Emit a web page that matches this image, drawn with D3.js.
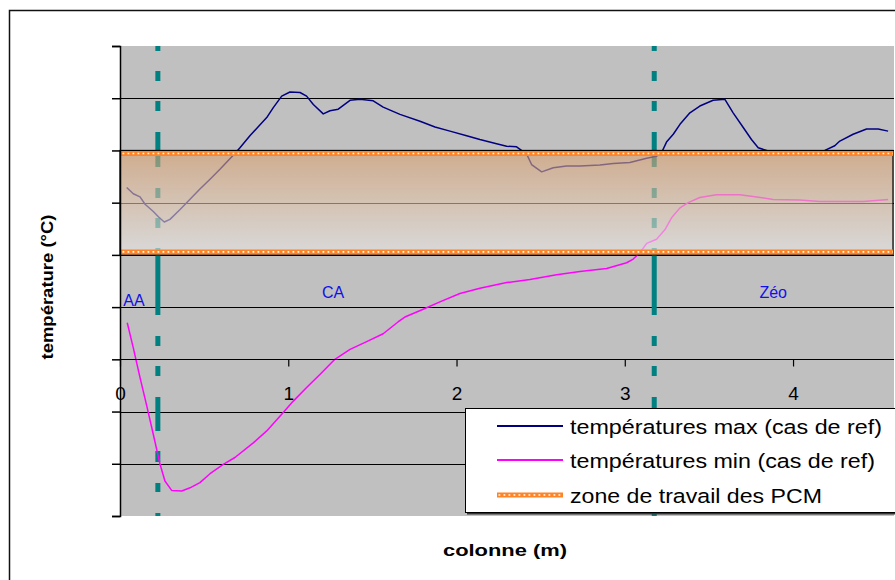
<!DOCTYPE html>
<html>
<head>
<meta charset="utf-8">
<script src="https://cdn.jsdelivr.net/npm/d3@7/dist/d3.min.js"></script>
<style>
  body { margin: 0; background: #fff; }
  svg { display: block; }
  text { font-family: "Liberation Sans", Arial, sans-serif; }
</style>
</head>
<body>
<svg id="chart" width="895" height="580"></svg>
<script>
// Maximum temperatures along the column (reference case)
const positionsMax = [0.040, 0.079, 0.119, 0.149, 0.198, 0.228, 0.263, 0.297, 0.357, 0.396,
  0.475, 0.535, 0.594, 0.673, 0.713, 0.772, 0.812, 0.872, 0.911, 0.961,
  1.010, 1.070, 1.109, 1.149, 1.208, 1.248, 1.297, 1.367, 1.426, 1.505,
  1.564, 1.664, 1.783, 1.872, 1.961, 2.060, 2.139, 2.238, 2.298, 2.357,
  2.417, 2.446, 2.506, 2.575, 2.654, 2.733, 2.852, 2.931, 3.030, 3.130,
  3.189, 3.219, 3.248, 3.288, 3.328, 3.387, 3.446, 3.525, 3.595, 3.644,
  3.704, 3.753, 3.793, 3.862, 4.040, 4.189, 4.248, 4.278, 4.357, 4.437,
  4.506, 4.565];
const tempMax = [32.9, 31.7, 31.1, 29.7, 28.3, 27.3, 26.3, 26.8, 28.7, 30.0,
  32.6, 34.5, 36.4, 39.1, 40.5, 42.8, 44.2, 46.3, 48.2, 50.4,
  51.2, 51.1, 50.4, 48.8, 47.0, 47.6, 47.9, 49.6, 49.8, 49.5,
  48.3, 46.9, 45.6, 44.5, 43.7, 42.8, 42.1, 41.3, 40.8, 40.7,
  39.3, 37.3, 35.9, 36.7, 37.0, 37.0, 37.2, 37.5, 37.7, 38.5,
  38.9, 39.6, 41.6, 43.1, 45.0, 47.2, 48.5, 49.6, 49.8, 47.2,
  44.4, 42.1, 40.5, 39.8, 39.8, 40.0, 40.9, 41.8, 43.1, 44.1,
  44.1, 43.7];

// Minimum temperatures along the column (reference case)
const positionsMin = [0.043, 0.079, 0.119, 0.159, 0.198, 0.238, 0.267, 0.307, 0.367, 0.416,
  0.475, 0.535, 0.614, 0.683, 0.792, 0.872, 0.961, 1.030, 1.109, 1.188,
  1.277, 1.367, 1.466, 1.564, 1.654, 1.693, 1.802, 1.901, 2.020, 2.139,
  2.298, 2.436, 2.595, 2.733, 2.892, 3.011, 3.050, 3.090, 3.130, 3.189,
  3.238, 3.278, 3.328, 3.377, 3.446, 3.545, 3.684, 3.783, 3.882, 4.040,
  4.159, 4.417, 4.565];
const tempMin = [7.0, 2.2, -3.5, -8.9, -14.4, -20.1, -23.3, -25.1, -25.2, -24.6,
  -23.6, -21.9, -20.1, -18.8, -16.0, -13.7, -10.5, -8.0, -5.4, -2.9,
  0.0, 1.9, 3.4, 4.9, 7.2, 8.1, 9.6, 11.0, 12.6, 13.6,
  14.7, 15.3, 16.2, 16.8, 17.4, 18.5, 19.2, 20.4, 22.2, 23.0,
  24.8, 27.1, 29.0, 30.0, 31.0, 31.5, 31.5, 31.1, 30.6, 30.5,
  30.2, 30.2, 30.6];

// PCM working range (°C)
const zonePCM = [20, 40];

// Layer boundaries along the column (m) and layer names
const layerBounds = [0.225, 3.175];
const layerNames = ["AA", "CA", "Zéo"];
const layerNameX = [0.02, 1.2, 3.8];
const layerNameY = [10.2, 11.7, 11.7];

// Axes
const xDomain = [0, 4.6];
const yDomain = [-30, 60];
const xTickValues = [0, 1, 2, 3, 4];
const yTickValues = [-30, -20, -10, 0, 10, 20, 30, 40, 50, 60];
const gridValues = [-20, -10, 0, 10, 20, 30, 40, 50];

const legendLabels = ["températures max (cas de ref)", "températures min (cas de ref)", "zone de travail des PCM"];

const colMax = "#000080", colMin = "#FF00FF", colZone = "#FF8426", colLayer = "#008080";

const svg = d3.select("#chart");
const plot = { left: 120, right: 894, top: 46, bottom: 516 };

const x = d3.scaleLinear().domain(xDomain).range([plot.left, plot.right]);
const y = d3.scaleLinear().domain(yDomain).range([plot.bottom, plot.top]);

// outer chart frame
svg.append("rect").attr("x", 9.5).attr("y", 10.5).attr("width", 900).attr("height", 600)
  .attr("fill", "#fff").attr("stroke", "#111").attr("stroke-width", 1.5);

// plot background
svg.append("rect").attr("x", plot.left).attr("y", plot.top)
  .attr("width", plot.right - plot.left).attr("height", plot.bottom - plot.top)
  .attr("fill", "#C0C0C0");

svg.append("defs").append("clipPath").attr("id", "plotclip")
  .append("rect").attr("x", plot.left).attr("y", plot.top)
  .attr("width", plot.right - plot.left).attr("height", plot.bottom - plot.top);

// horizontal gridlines
svg.append("g").selectAll("line").data(gridValues).join("line")
  .attr("x1", plot.left).attr("x2", plot.right)
  .attr("y1", d => Math.round(y(d)) + 0.5).attr("y2", d => Math.round(y(d)) + 0.5)
  .attr("stroke", "#000").attr("stroke-width", 1.2);

// layer boundaries (dashed teal verticals)
svg.append("g").selectAll("line").data(layerBounds).join("line")
  .attr("x1", d => x(d)).attr("x2", d => x(d))
  .attr("y1", y(yDomain[1])).attr("y2", y(yDomain[0]))
  .attr("stroke", colLayer).attr("stroke-width", 5)
  .attr("stroke-dasharray", "5,20,10,20,10,21,35,21,10,20,10,20,67,21,10,20,10,21,34,20,11,21,9,21,3,200");

// temperature curves
const line = d3.line().x(d => x(d[0])).y(d => y(d[1]));
const g = svg.append("g").attr("clip-path", "url(#plotclip)");
g.append("path").datum(d3.zip(positionsMax, tempMax)).attr("d", line)
  .attr("fill", "none").attr("stroke", colMax).attr("stroke-width", 1.5).attr("stroke-linejoin", "round");
g.append("path").datum(d3.zip(positionsMin, tempMin)).attr("d", line)
  .attr("fill", "none").attr("stroke", colMin).attr("stroke-width", 1.5).attr("stroke-linejoin", "round");

// PCM working zone: translucent gradient band
const grad = svg.select("defs").append("linearGradient").attr("id", "zoneGrad")
  .attr("x1", 0).attr("y1", 0).attr("x2", 0).attr("y2", 1);
grad.append("stop").attr("offset", "0%").attr("stop-color", "#D99F6D");
grad.append("stop").attr("offset", "100%").attr("stop-color", "#EAEAEA");

const zTop = y(zonePCM[1]), zBot = y(zonePCM[0]);
svg.append("rect").attr("x", plot.left).attr("y", zTop)
  .attr("width", plot.right - plot.left - 1).attr("height", zBot - zTop)
  .attr("fill", "url(#zoneGrad)").attr("fill-opacity", 0.6)
  .attr("stroke", "#000").attr("stroke-width", 1.2);

// dotted orange limits of the zone
function dottedLine(sel, x1, x2, yy) {
  sel.append("line").attr("x1", x1).attr("x2", x2).attr("y1", yy).attr("y2", yy)
    .attr("stroke", colZone).attr("stroke-width", 5);
  sel.append("line").attr("x1", x1 + 1.5).attr("x2", x2).attr("y1", yy).attr("y2", yy)
    .attr("stroke", "#fff").attr("stroke-width", 1.6).attr("stroke-dasharray", "1.8,3.2");
}
const zl = svg.append("g");
dottedLine(zl, plot.left + 1, plot.right - 1, zTop + 3);
dottedLine(zl, plot.left + 1, plot.right - 1, zBot - 3);

// y axis (no labels)
const yAxis = d3.axisLeft(y).tickValues(yTickValues).tickSize(8).tickFormat("");
const ya = svg.append("g").attr("transform", `translate(${plot.left},0)`).call(yAxis);
ya.select(".domain").attr("stroke", "#000").attr("stroke-width", 1.5);
ya.selectAll(".tick line").attr("stroke", "#000").attr("stroke-width", 1.5);

// x axis crossing at 0 °C
const xAxis = d3.axisBottom(x).tickValues(xTickValues).tickSize(7).tickPadding(20).tickFormat(d3.format("d"));
const xa = svg.append("g").attr("transform", `translate(0,${Math.round(y(0)) + 0.5})`).call(xAxis);
xa.select(".domain").attr("stroke", "#000").attr("stroke-width", 1.2).attr("d", `M${plot.left},0H${plot.right}`);
xa.selectAll(".tick line").attr("stroke", "#000").attr("stroke-width", 1.2);
xa.selectAll(".tick text").attr("font-size", 19).attr("fill", "#000")
  .attr("font-family", "'Liberation Sans', Arial, sans-serif");

// layer names
svg.append("g").selectAll("text").data(layerNames).join("text")
  .attr("x", (d, i) => x(layerNameX[i])).attr("y", (d, i) => y(layerNameY[i]))
  .attr("font-size", 16).attr("fill", "#1010E8").text(d => d);

// axis titles
svg.append("text").attr("x", 505).attr("y", 556).attr("text-anchor", "middle")
  .attr("font-size", 16).attr("font-weight", "bold").attr("textLength", 124)
  .attr("lengthAdjust", "spacingAndGlyphs").text("colonne (m)");
svg.append("text").attr("transform", "translate(53,287) rotate(-90)").attr("text-anchor", "middle")
  .attr("font-size", 17).attr("font-weight", "bold").attr("textLength", 145)
  .attr("lengthAdjust", "spacingAndGlyphs").text("température (°C)");

// legend
const lg = svg.append("g");
lg.append("rect").attr("x", 467).attr("y", 410).attr("width", 440).attr("height", 104.5).attr("fill", "#333");
lg.append("rect").attr("x", 465.5).attr("y", 408.5).attr("width", 440).attr("height", 104)
  .attr("fill", "#fff").attr("stroke", "#000").attr("stroke-width", 1);
const rowsY = [426, 460, 495];
const textLen = [312, 305, 252];
lg.append("line").attr("x1", 497).attr("x2", 563).attr("y1", rowsY[0]).attr("y2", rowsY[0])
  .attr("stroke", colMax).attr("stroke-width", 2);
lg.append("line").attr("x1", 497).attr("x2", 563).attr("y1", rowsY[1]).attr("y2", rowsY[1])
  .attr("stroke", colMin).attr("stroke-width", 2);
dottedLine(lg, 497, 563, rowsY[2]);
lg.selectAll("text.lab").data(legendLabels).join("text").attr("class", "lab")
  .attr("x", 570).attr("y", (d, i) => rowsY[i] + 7.5)
  .attr("font-size", 20.5).attr("fill", "#000")
  .attr("textLength", (d, i) => textLen[i]).attr("lengthAdjust", "spacingAndGlyphs")
  .text(d => d);
</script>
</body>
</html>
